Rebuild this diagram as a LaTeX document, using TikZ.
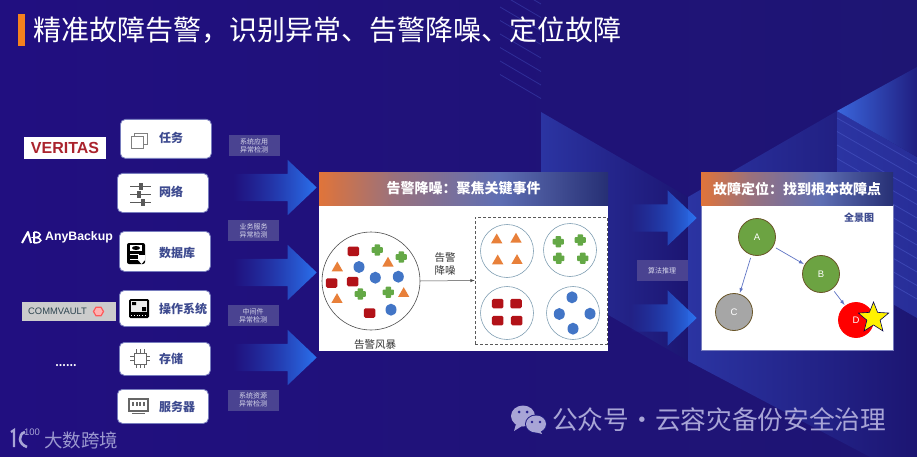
\documentclass[tikz,border=0pt]{standalone}
\usepackage{xcolor}
\usepackage{fontspec}
\usepackage{tikz}
\usetikzlibrary{shapes.geometric, shapes.arrows, arrows, positioning, fadings}
\setmainfont{Noto Sans CJK SC}
\newfontfamily\logofont{Liberation Sans}
\definecolor{pagedark}{RGB}{33, 15, 128}
\definecolor{pagemid}{RGB}{37, 32, 142}
\definecolor{pageend}{RGB}{30, 21, 115}
\definecolor{shardblue}{RGB}{43, 52, 162}
\definecolor{sharddark}{RGB}{28, 21, 114}
\definecolor{brightblue}{RGB}{58, 102, 220}
\definecolor{stripeblue}{RGB}{68, 80, 190}
\definecolor{barorange}{RGB}{245, 130, 30}
\definecolor{boxtext}{RGB}{61, 74, 143}
\definecolor{boxline}{RGB}{120, 125, 190}
\definecolor{tagfill}{RGB}{74, 67, 145}
\definecolor{tagtext}{RGB}{215, 215, 235}
\definecolor{arrowlow}{RGB}{35, 80, 205}
\definecolor{arrowhigh}{RGB}{43, 114, 238}
\definecolor{headorange}{RGB}{224, 116, 58}
\definecolor{headmid}{RGB}{95, 111, 180}
\definecolor{headdark}{RGB}{38, 47, 116}
\definecolor{markred}{RGB}{178, 18, 24}
\definecolor{markblue}{RGB}{66, 117, 198}
\definecolor{markgreen}{RGB}{100, 168, 70}
\definecolor{markorange}{RGB}{232, 128, 58}
\definecolor{ringblue}{RGB}{130, 160, 180}
\definecolor{nodegreen}{RGB}{108, 163, 66}
\definecolor{nodeline}{RGB}{105, 85, 40}
\definecolor{edgeblue}{RGB}{95, 116, 196}
\definecolor{footgray}{RGB}{168, 165, 214}
\definecolor{veritasred}{RGB}{170, 35, 45}
\definecolor{commvaultink}{RGB}{45, 68, 80}
\pgfdeclarehorizontalshading{headfade}{100bp}{color(0bp)=(headorange); color(25bp)=(headorange); color(38bp)=(headorange!45!headmid); color(56bp)=(headmid); color(75bp)=(headdark); color(100bp)=(headdark)}
\tikzset{
    tasknode/.style={draw=boxline, line width=0.8pt, fill=white, rounded corners=5pt, minimum width=91pt, anchor=north west, inner sep=0pt},
    tasklabel/.style={text=boxtext, font=\fontsize{12}{14}\selectfont\bfseries, anchor=west, inner sep=0pt},
    tagbox/.style={fill=tagfill, text=tagtext, minimum width=51pt, minimum height=21pt, inner sep=0pt, align=center, font=\fontsize{7}{8.2}\selectfont},
    bigarrow/.style={shape=single arrow, anchor=tip, minimum height=84pt, minimum width=55pt, single arrow head extend=14pt, single arrow tip angle=87, inner xsep=0pt, inner ysep=13.5pt, left color=arrowlow, right color=arrowhigh, path fading=west},
    panelhead/.style={shading=headfade, text=white, anchor=north west, inner sep=0pt, minimum height=33pt, font=\fontsize{14}{16}\selectfont\bfseries},
    redmark/.style={fill=markred, rounded corners=1.5pt, minimum width=11.5pt, minimum height=9.5pt, inner sep=0pt},
    bluemark/.style={ellipse, fill=markblue, minimum width=11pt, minimum height=12pt, inner sep=0pt},
    orangemark/.style={regular polygon, regular polygon sides=3, fill=markorange, minimum size=13pt, inner sep=0pt},
    ringnode/.style={circle, draw=ringblue, line width=0.6pt, minimum size=53pt, inner sep=0pt},
    graphnode/.style={circle, draw=nodeline, line width=0.8pt, minimum size=37pt, inner sep=0pt, text=white, font=\logofont\fontsize{9.5}{11}\selectfont},
    graphedge/.style={->, >=latex, draw=edgeblue, line width=0.7pt, shorten >=1pt, shorten <=3pt},
    smalltext/.style={text=black!80, align=center, font=\fontsize{10.5}{13}\selectfont, inner sep=0pt},
    iconline/.style={draw=black!65, line width=1pt},
    crossmark/.pic={
        \fill[markgreen, rounded corners=0.8pt] (-2.8,-5.6) rectangle (2.8,5.6);
        \fill[markgreen, rounded corners=0.8pt] (-5.6,-2.8) rectangle (5.6,2.8);
    }
}
\begin{document}
\begin{tikzpicture}[x=1pt, y=-1pt]
    \useasboundingbox (0,0) rectangle (917,457);
    \shade[left color=pagedark, middle color=pagemid, right color=pageend] (0,0) rectangle (917,457);

    \shade[left color=shardblue, right color=sharddark] (541,112) -- (688,197) -- (688,361) -- (541,276) -- cycle;
    \shade[left color=shardblue, right color=sharddark] (688,197) -- (837,111) -- (917,157) -- (917,457) -- (870,457) -- (688,361) -- cycle;
    \shade[left color=shardblue, right color=shardblue!80!sharddark] (837,111) -- (917,157) -- (917,318) -- (837,272) -- cycle;
    \shade[left color=brightblue, right color=sharddark!70!shardblue] (837,111) -- (917,67) -- (917,157) -- cycle;
    \foreach \y in {118,131.5,...,260} {
        \draw[stripeblue, opacity=0.7, line width=0.8pt] (837,\y) -- (917,\y+46);
    }
    \foreach \y in {4,17.5,...,100} {
        \draw[stripeblue, opacity=0.45, line width=0.8pt] (541,\y) -- (500,\y-24);
    }

    \fill[barorange] (18,14) rectangle (25,46);
    \node[text=white, anchor=west, inner sep=0pt, font=\fontsize{28}{32}\selectfont] (pagetitle) at (33,30) {精准故障告警，识别异常、告警降噪、定位故障};

    \node[fill=white, text=veritasred, minimum width=82pt, minimum height=22pt, inner sep=0pt, font=\logofont\fontsize{16}{20}\selectfont\bfseries] (veritas) at (65,148) {VERITAS};
    \node[text=white, anchor=west, inner sep=0pt, font=\logofont\fontsize{12.3}{15}\selectfont\bfseries] (anybackup) at (45,237) {AnyBackup};
    \draw[white, line width=2pt, line join=round] (22,243) -- (28,232) -- (31,243) (34,232) -- (34,243);
    \draw[white, line width=1.5pt] (34,232) .. controls (42,232) and (42,237) .. (35,237.5) .. controls (43,238) and (43,243) .. (34,243);
    \node[fill=black!20, minimum width=94pt, minimum height=19pt, inner sep=0pt] (commvault) at (69,311.5) {};
    \node[text=commvaultink, anchor=west, inner sep=0pt, font=\logofont\fontsize{9.4}{10}\selectfont] (commvaulttext) at (28,311.5) {COMMVAULT};
    \node[regular polygon, regular polygon sides=6, draw=red!65!white, fill=red!30!white, line width=1.2pt, minimum size=10pt, inner sep=0pt] (commvaulthex) at (98.5,311.5) {};
    \node[text=white, inner sep=0pt, font=\fontsize{10}{10}\selectfont\bfseries] (moredots) at (66,366) {......};

    \node[tasknode, minimum height=39pt] (taskbox) at (120,119) {};
    \node[tasknode, minimum height=39pt] (netbox) at (117,173) {};
    \node[tasknode, minimum height=40pt] (dbbox) at (119,231) {};
    \node[tasknode, minimum height=36pt] (osbox) at (119,290) {};
    \node[tasknode, minimum height=33pt] (storebox) at (119,342) {};
    \node[tasknode, minimum height=34pt] (serverbox) at (117,389) {};
    \node[tasklabel] (tasktext) at (159,138) {任务};
    \node[tasklabel] (nettext) at (159,192) {网络};
    \node[tasklabel] (dbtext) at (159,253) {数据库};
    \node[tasklabel] (ostext) at (159,309) {操作系统};
    \node[tasklabel] (storetext) at (159,359) {存储};
    \node[tasklabel] (servertext) at (159,407) {服务器};

    \draw[black!50, line width=0.9pt] (134,133) rectangle (147,144);
    \draw[black!50, line width=0.9pt, fill=white] (131,136) rectangle (143,148);
    \foreach \y/\k in {186/141, 194/139, 202/143} {
        \draw[iconline] (130,\y) -- (151,\y);
        \fill[black!65] (\k-2,\y-3.5) rectangle (\k+2,\y+3.5);
    }
    \fill[black, rounded corners=2pt] (127,243) rectangle (145,264);
    \fill[white] (130,245) rectangle (142,251);
    \fill[black] (136,248) ellipse (4 and 2);
    \draw[white, line width=0.7pt] (130,254) -- (139,254) (130,259) -- (139,259);
    \fill[white] (138,255) -- (145,255) -- (145,260) -- (141.5,264) -- (138,260) -- cycle;
    \fill[black, rounded corners=1.5pt] (129,299) rectangle (149,318);
    \fill[black!8] (131,301) rectangle (147,312);
    \fill[black] (132,302) rectangle (136,305) (142,307) rectangle (146,311);
    \draw[white, line width=0.8pt, dotted] (131,315) -- (147,315);
    \draw[black!60, line width=0.9pt] (134,353) rectangle (146,364);
    \foreach \k in {136,140,144} {
        \draw[black!60, line width=0.8pt] (\k,349) -- (\k,353) (\k,364) -- (\k,368);
    }
    \foreach \k in {356,360} {
        \draw[black!60, line width=0.8pt] (130,\k) -- (134,\k) (146,\k) -- (150,\k);
    }
    \draw[black!60, line width=1.2pt] (129,399) rectangle (148,411);
    \foreach \k in {132,135.5,139,142.5} {
        \fill[black!60] (\k,402) rectangle (\k+2,406);
    }
    \draw[black!60, line width=0.9pt] (132,413) -- (145,413);

    \node[tagbox] (apptag) at (254,145.5) {系统应用\\异常检测};
    \node[tagbox] (biztag) at (253.5,230.5) {业务服务\\异常检测};
    \node[tagbox] (midtag) at (253,315.5) {中间件\\异常检测};
    \node[tagbox] (restag) at (253,400) {系统资源\\异常检测};
    \node[tagbox] (algotag) at (662,270.5) {算法推理};

    \node[bigarrow] (arrowa) at (317,187.5) {};
    \node[bigarrow] (arrowb) at (317,272.5) {};
    \node[bigarrow] (arrowc) at (317,357.5) {};
    \node[bigarrow, minimum height=67pt] (arrowd) at (697,218) {};
    \node[bigarrow, minimum height=67pt] (arrowe) at (697,318) {};

    \node[fill=white, anchor=north west, minimum width=289pt, minimum height=146pt, inner sep=0pt] (noisepanel) at (319,205) {};
    \node[panelhead, minimum width=289pt] (noisehead) at (319,172) {告警降噪：聚焦关键事件};
    \node[circle, draw=black!70, line width=0.6pt, minimum size=98pt, inner sep=0pt] (storm) at (371,281) {};
    \node[draw=black!65, densely dashed, line width=0.6pt, minimum width=132pt, minimum height=127pt, inner sep=0pt] (noisegroup) at (541,280.5) {};
    \draw[->, >=latex, black!70, line width=0.5pt] (storm.east) -- (noisegroup.west);
    \node[smalltext] (noiselabel) at (445,264.5) {告警\\降噪};
    \node[smalltext] (stormlabel) at (375,345) {告警风暴};
    \node[ringnode] (ringa) at (507,251) {};
    \node[ringnode] (ringb) at (570,250) {};
    \node[ringnode] (ringc) at (507,313) {};
    \node[ringnode] (ringd) at (573,313) {};
    \foreach \x/\y [count=\i] in {353.3/251.3, 331.7/283, 352.7/281.7, 369.7/313, 497.7/303.7, 516/303.7, 497.7/320.7, 516.7/320.7} {
        \node[redmark] (red\i) at (\x,\y) {};
    }
    \foreach \x/\y [count=\i] in {359/267, 375.3/277.7, 398.3/276.7, 391/309.7, 572/297.3, 559.3/314, 590/313.7, 573/328.7} {
        \node[bluemark] (blue\i) at (\x,\y) {};
    }
    \foreach \x/\y [count=\i] in {337.3/268, 388/263.3, 337/299.7, 403.7/293.7, 496.7/240, 516/239.3, 497.7/261, 517/260.7} {
        \node[orangemark] (orange\i) at (\x,\y) {};
    }
    \foreach \x/\y in {377.3/250, 401.3/257, 360.3/294, 388.3/292.3, 558.3/241.7, 580.3/240, 558.7/258.3, 582.7/258.3} {
        \pic at (\x,\y) {crossmark};
    }

    \node[draw=boxline, line width=0.8pt, fill=white, anchor=north west, minimum width=192pt, minimum height=145pt, inner sep=0pt] (rootpanel) at (701,205) {};
    \node[panelhead, minimum width=192pt] (roothead) at (701,172) {故障定位：找到根本故障点};
    \node[text=boxtext, inner sep=0pt, font=\fontsize{10}{12}\selectfont\bfseries] (viewlabel) at (859,218) {全景图};
    \node[graphnode, fill=nodegreen] (nodea) at (757,237) {A};
    \node[graphnode, fill=nodegreen] (nodeb) at (821,274) {B};
    \node[graphnode, fill=black!35] (nodec) at (734,312) {C};
    \node[graphnode, fill=red, draw=red, minimum size=35pt] (noded) at (856,320) {D};
    \node[star, star points=5, star point ratio=2.3, fill=yellow, draw=black!70!blue, line width=0.6pt, minimum size=32pt, inner sep=0pt] (faultstar) at (873.5,318) {};
    \draw[graphedge] (nodea) -- (nodeb);
    \draw[graphedge] (nodea) -- (nodec);
    \draw[graphedge] (nodeb) -- (noded);

    \fill[footgray] (523,416) ellipse (12 and 10.5);
    \fill[footgray] (516,424) -- (514,431) -- (522,426) -- cycle;
    \fill[sharddark!40!pagemid] (536,424) ellipse (11 and 9.5);
    \fill[footgray] (536,424) ellipse (10 and 8.5);
    \fill[footgray] (540,430) -- (542,434) -- (535,432) -- cycle;
    \fill[pagemid] (519,412) circle (1.5) (527,412) circle (1.5) (532,422) circle (1.3) (540,422) circle (1.3);
    \node[text=footgray, anchor=west, inner sep=0pt, font=\fontsize{25.7}{28}\selectfont] (footnote) at (552,420) {公众号·云容灾备份安全治理};

    \draw[footgray, line width=2.2pt] (11,432) -- (14,430) -- (14,447);
    \draw[footgray, line width=2.6pt] (25,432) .. controls (18,434) and (18,444) .. (27,447);
    \node[text=footgray, inner sep=0pt, font=\logofont\fontsize{9.5}{10}\selectfont] (logohundred) at (32,432) {100};
    \node[text=footgray!90!pagemid, anchor=west, inner sep=0pt, font=\fontsize{18.5}{20}\selectfont] (brandname) at (44,440) {大数跨境};
\end{tikzpicture}
\end{document}
